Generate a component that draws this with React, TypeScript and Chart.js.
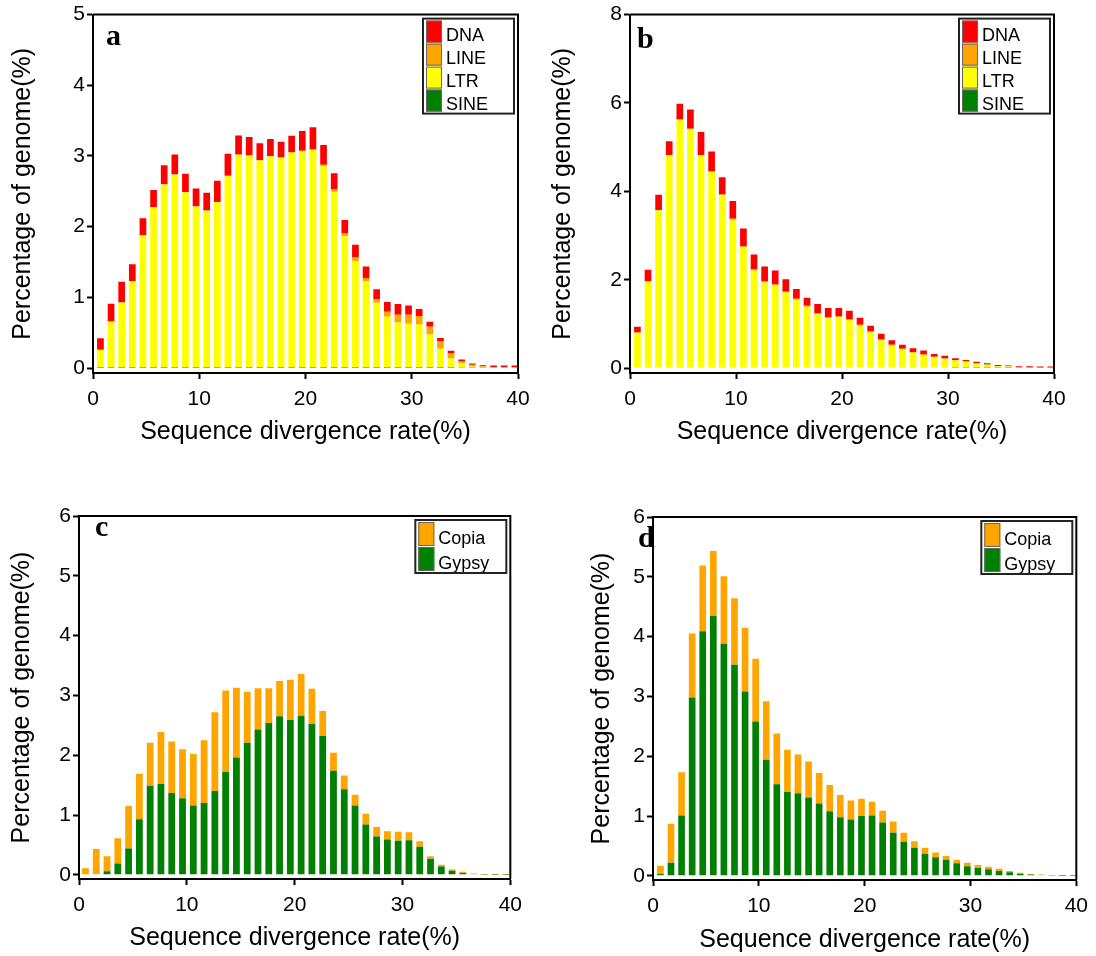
import { useEffect, useRef } from "react";
import { Chart, registerables } from "chart.js";

Chart.register(...registerables);

// Sequence divergence bins (%), one stacked bar per 1% bin
const DIVERGENCE_BINS = [
  1, 2, 3, 4, 5, 6, 7, 8, 9, 10, 11, 12, 13, 14, 15, 16, 17, 18, 19, 20,
  21, 22, 23, 24, 25, 26, 27, 28, 29, 30, 31, 32, 33, 34, 35, 36, 37, 38, 39, 40,
];
const X_TICKS = [0, 10, 20, 30, 40];

// Panel a: percentage of genome by repeat class
const A_SINE = [
  0.015, 0.015, 0.015, 0.015, 0.015, 0.015, 0.015, 0.015, 0.015, 0.015,
  0.015, 0.015, 0.015, 0.015, 0.015, 0.015, 0.015, 0.015, 0.015, 0.015,
  0.015, 0.015, 0.015, 0.015, 0.015, 0.015, 0.015, 0.015, 0.015, 0.015,
  0.015, 0.015, 0.015, 0.015, 0.01, 0.005, 0.005, 0.005, 0.005, 0.005,
];
const A_LTR = [
  0.24, 0.64, 0.91, 1.21, 1.86, 2.26, 2.58, 2.72, 2.47, 2.27,
  2.21, 2.33, 2.7, 3.0, 2.99, 2.92, 2.98, 2.96, 3.03, 3.05,
  3.07, 2.84, 2.48, 1.85, 1.5, 1.21, 0.91, 0.71, 0.63, 0.61,
  0.6, 0.46, 0.26, 0.12, 0.06, 0.02, 0.01, 0.005, 0.005, 0.005,
];
const A_LINE = [
  0.005, 0.005, 0.005, 0.005, 0.005, 0.005, 0.005, 0.005, 0.005, 0.005,
  0.005, 0.005, 0.005, 0.005, 0.005, 0.005, 0.005, 0.005, 0.01, 0.01,
  0.01, 0.02, 0.03, 0.04, 0.05, 0.05, 0.05, 0.07, 0.11, 0.13,
  0.12, 0.11, 0.1, 0.07, 0.03, 0.02, 0.01, 0.005, 0.005, 0.005,
];
const A_DNA = [
  0.16, 0.25, 0.29, 0.24, 0.24, 0.24, 0.27, 0.28, 0.26, 0.25,
  0.25, 0.3, 0.31, 0.27, 0.26, 0.24, 0.24, 0.22, 0.23, 0.28,
  0.31, 0.28, 0.23, 0.19, 0.18, 0.16, 0.14, 0.14, 0.15, 0.13,
  0.1, 0.07, 0.05, 0.04, 0.02, 0.02, 0.015, 0.02, 0.02, 0.02,
];
const A_Y_TICKS = [0, 1, 2, 3, 4, 5];

// Panel b: percentage of genome by repeat class
const B_SINE = [
  0.01, 0.01, 0.01, 0.01, 0.01, 0.01, 0.01, 0.01, 0.01, 0.01,
  0.01, 0.01, 0.01, 0.01, 0.01, 0.01, 0.01, 0.01, 0.01, 0.01,
  0.01, 0.01, 0.01, 0.01, 0.01, 0.01, 0.01, 0.01, 0.01, 0.01,
  0.005, 0.005, 0.005, 0.005, 0.005, 0.005, 0.005, 0.005, 0.005, 0.005,
];
const B_LTR = [
  0.79, 1.95, 3.56, 4.81, 5.61, 5.4, 4.81, 4.43, 3.9, 3.35,
  2.73, 2.2, 1.93, 1.86, 1.7, 1.54, 1.38, 1.21, 1.12, 1.14,
  1.08, 0.95, 0.8, 0.62, 0.5, 0.42, 0.34, 0.29, 0.24, 0.2,
  0.17, 0.14, 0.1, 0.07, 0.04, 0.03, 0.015, 0.01, 0.005, 0.005,
];
const B_LINE = [
  0.005, 0.005, 0.005, 0.005, 0.005, 0.005, 0.005, 0.02, 0.02, 0.02,
  0.02, 0.02, 0.02, 0.02, 0.02, 0.02, 0.02, 0.02, 0.02, 0.02,
  0.02, 0.02, 0.02, 0.02, 0.02, 0.01, 0.01, 0.01, 0.01, 0.01,
  0.01, 0.01, 0.005, 0.005, 0.005, 0.005, 0.005, 0.005, 0.005, 0.005,
];
const B_DNA = [
  0.13, 0.26, 0.35, 0.31, 0.36, 0.44, 0.52, 0.44, 0.39, 0.4,
  0.4, 0.34, 0.34, 0.32, 0.28, 0.22, 0.18, 0.21, 0.21, 0.19,
  0.19, 0.16, 0.13, 0.13, 0.1, 0.09, 0.09, 0.09, 0.06, 0.06,
  0.04, 0.03, 0.035, 0.03, 0.02, 0.02, 0.02, 0.02, 0.02, 0.02,
];
const B_Y_TICKS = [0, 2, 4, 6, 8];

// Panel c: LTR retrotransposon families
const C_GYPSY = [
  0.01, 0.01, 0.06, 0.19, 0.44, 0.93, 1.49, 1.52, 1.37, 1.28,
  1.16, 1.2, 1.4, 1.72, 1.96, 2.21, 2.43, 2.54, 2.65, 2.59,
  2.66, 2.52, 2.32, 1.74, 1.43, 1.16, 0.84, 0.64, 0.59, 0.57,
  0.58, 0.47, 0.27, 0.14, 0.07, 0.03, 0.01, 0.005, 0.003, 0.003,
];
const C_COPIA = [
  0.1, 0.42, 0.25, 0.42, 0.71, 0.76, 0.72, 0.87, 0.86, 0.82,
  0.86, 1.05, 1.32, 1.36, 1.17, 0.85, 0.69, 0.58, 0.59, 0.67,
  0.7, 0.59, 0.42, 0.3, 0.23, 0.18, 0.18, 0.16, 0.14, 0.15,
  0.13, 0.09, 0.04, 0.03, 0.02, 0.02, 0.01, 0.008, 0.008, 0.008,
];
const C_Y_TICKS = [0, 1, 2, 3, 4, 5, 6];

// Panel d: LTR retrotransposon families
const D_GYPSY = [
  0.03, 0.22, 1.01, 2.98, 4.09, 4.35, 3.88, 3.53, 3.08, 2.58,
  1.94, 1.53, 1.4, 1.38, 1.31, 1.21, 1.08, 0.98, 0.94, 1.0,
  1.01, 0.89, 0.72, 0.57, 0.47, 0.37, 0.31, 0.27, 0.21, 0.16,
  0.13, 0.11, 0.08, 0.06, 0.03, 0.02, 0.01, 0.005, 0.003, 0.003,
];
const D_COPIA = [
  0.14, 0.65, 0.72, 1.07, 1.1, 1.08, 1.13, 1.11, 1.07, 1.05,
  0.98, 0.85, 0.71, 0.65, 0.6, 0.51, 0.44, 0.37, 0.32, 0.29,
  0.23, 0.2, 0.19, 0.15, 0.11, 0.1, 0.08, 0.06, 0.06, 0.06,
  0.05, 0.04, 0.04, 0.02, 0.02, 0.01, 0.01, 0.005, 0.007, 0.007,
];
const D_Y_TICKS = [0, 1, 2, 3, 4, 5, 6];

const COLOR_DNA = "#ff0000";
const COLOR_LINE = "#ffa500";
const COLOR_LTR = "#ffff00";
const COLOR_SINE = "#008000";
const COLOR_COPIA = "#ffa500";
const COLOR_GYPSY = "#008000";

const SANS = '"Liberation Sans", Arial, Helvetica, sans-serif';
const SERIF = '"Liberation Serif", "Times New Roman", serif';

type Series = { label: string; color: string; values: number[] };
type PanelSpec = {
  letter: string;
  canvas: { x: number; y: number; w: number; h: number };
  area: { l: number; t: number; r: number; b: number };
  yMin: number;
  yMax: number;
  yTicks: number[];
  series: Series[]; // bottom of stack first
  binShift: number;
  letterDx: number;
  letterDy: number;
  legendItemH: number;
  yTitlePad: number;
  xTitlePad: number;
};

const PANELS: PanelSpec[] = [
  {
    letter: "a",
    canvas: { x: 0, y: 0, w: 540, h: 450 },
    area: { l: 93, t: 12, r: 518, b: 373 },
    yMin: -0.07,
    yMax: 5,
    yTicks: A_Y_TICKS,
    series: [
      { label: "SINE", color: COLOR_SINE, values: A_SINE },
      { label: "LTR", color: COLOR_LTR, values: A_LTR },
      { label: "LINE", color: COLOR_LINE, values: A_LINE },
      { label: "DNA", color: COLOR_DNA, values: A_DNA },
    ],
    binShift: -0.3,
    letterDx: 13,
    letterDy: 30,
    legendItemH: 23,
    yTitlePad: 8,
    xTitlePad: 3,
  },
  {
    letter: "b",
    canvas: { x: 539, y: 0, w: 540, h: 450 },
    area: { l: 630, t: 12, r: 1054, b: 373 },
    yMin: -0.11,
    yMax: 8,
    yTicks: B_Y_TICKS,
    series: [
      { label: "SINE", color: COLOR_SINE, values: B_SINE },
      { label: "LTR", color: COLOR_LTR, values: B_LTR },
      { label: "LINE", color: COLOR_LINE, values: B_LINE },
      { label: "DNA", color: COLOR_DNA, values: B_DNA },
    ],
    binShift: -0.3,
    letterDx: 7,
    letterDy: 33,
    legendItemH: 23,
    yTitlePad: 9,
    xTitlePad: 3,
  },
  {
    letter: "c",
    canvas: { x: 0, y: 470, w: 530, h: 486 },
    area: { l: 79, t: 516, r: 511, b: 879 },
    yMin: -0.07,
    yMax: 6,
    yTicks: C_Y_TICKS,
    series: [
      { label: "Gypsy", color: COLOR_GYPSY, values: C_GYPSY },
      { label: "Copia", color: COLOR_COPIA, values: C_COPIA },
    ],
    binShift: -0.4,
    letterDx: 16,
    letterDy: 20,
    legendItemH: 25,
    yTitlePad: 7,
    xTitlePad: 3,
  },
  {
    letter: "d",
    canvas: { x: 577, y: 470, w: 519, h: 486 },
    area: { l: 653, t: 517, r: 1083, b: 880 },
    yMin: -0.07,
    yMax: 6,
    yTicks: D_Y_TICKS,
    series: [
      { label: "Gypsy", color: COLOR_GYPSY, values: D_GYPSY },
      { label: "Copia", color: COLOR_COPIA, values: D_COPIA },
    ],
    binShift: -0.3,
    letterDx: -15,
    letterDy: 30,
    legendItemH: 25,
    yTitlePad: 10,
    xTitlePad: 1,
  },
];

function Panel({ spec }: { spec: PanelSpec }) {
  const ref = useRef<HTMLCanvasElement>(null);

  useEffect(() => {
    const canvas = ref.current;
    if (!canvas) return;
    const s = spec;
    const yAxisWidth = s.area.l - s.canvas.x;
    const xAxisHeight = s.canvas.y + s.canvas.h - s.area.b;

    // Frame, panel letter and legend box drawn over the plot
    const overlay = {
      id: "panelOverlay",
      afterDraw(chart: any) {
        const { ctx, chartArea } = chart;
        const { left, top, right, bottom } = chartArea;
        ctx.save();
        ctx.strokeStyle = "#000";
        ctx.lineWidth = 2;
        ctx.beginPath();
        ctx.moveTo(left, top);
        ctx.lineTo(right, top);
        ctx.lineTo(right, bottom);
        ctx.stroke();

        ctx.fillStyle = "#000";
        ctx.font = `bold 30px ${SERIF}`;
        ctx.textBaseline = "alphabetic";
        ctx.textAlign = "left";
        ctx.fillText(s.letter, left + s.letterDx, top + s.letterDy);

        const items = [...s.series].reverse();
        const boxW = 91;
        const itemH = s.legendItemH;
        const boxH = items.length * itemH + 3;
        const bx = right - 4 - boxW;
        const by = top + 4;
        ctx.fillStyle = "#fff";
        ctx.fillRect(bx, by, boxW, boxH);
        items.forEach((it, k) => {
          const sy = by + 2 + k * itemH;
          ctx.fillStyle = it.color;
          ctx.fillRect(bx + 3, sy, 16, itemH - 1);
          ctx.strokeStyle = "#666";
          ctx.lineWidth = 1;
          ctx.strokeRect(bx + 3.5, sy + 0.5, 15, itemH - 2);
          ctx.fillStyle = "#000";
          ctx.font = `18px ${SANS}`;
          ctx.fillText(it.label, bx + 23, sy + itemH - 3);
        });
        ctx.strokeStyle = "#222";
        ctx.lineWidth = 2;
        ctx.strokeRect(bx, by, boxW, boxH);
        ctx.restore();
      },
    };

    const chart = new Chart(canvas, {
      type: "bar",
      data: {
        datasets: s.series.map((ser) => ({
          label: ser.label,
          data: ser.values.map((v, i) => ({ x: DIVERGENCE_BINS[i] + s.binShift, y: v })),
          backgroundColor: ser.color,
          borderWidth: 0,
          barPercentage: 0.63,
          categoryPercentage: 1,
        })),
      },
      options: {
        animation: false,
        responsive: false,
        devicePixelRatio: 1,
        layout: {
          autoPadding: false,
          padding: {
            top: s.area.t - s.canvas.y,
            right: s.canvas.x + s.canvas.w - s.area.r,
            left: 0,
            bottom: 0,
          },
        },
        plugins: { legend: { display: false }, tooltip: { enabled: false } },
        scales: {
          x: {
            type: "linear",
            stacked: true,
            min: 0,
            max: 40,
            offset: false,
            afterBuildTicks: (sc: any) => {
              sc.ticks = X_TICKS.map((v) => ({ value: v }));
            },
            afterFit: (sc: any) => {
              sc.height = xAxisHeight;
            },
            grid: {
              display: true,
              drawOnChartArea: false,
              drawTicks: true,
              tickLength: 6,
              tickWidth: 2,
              color: "#000",
              offset: false,
            },
            border: { display: true, color: "#000", width: 2 },
            ticks: {
              color: "#000",
              font: { family: SANS, size: 21 },
              padding: 8,
              maxRotation: 0,
              autoSkip: false,
            },
            title: {
              display: true,
              text: "Sequence divergence rate(%)",
              color: "#000",
              font: { family: SANS, size: 25 },
              padding: { top: 0, bottom: s.xTitlePad },
            },
          },
          y: {
            type: "linear",
            stacked: true,
            min: s.yMin,
            max: s.yMax,
            afterBuildTicks: (sc: any) => {
              sc.ticks = s.yTicks.map((v) => ({ value: v }));
            },
            afterFit: (sc: any) => {
              sc.width = yAxisWidth;
            },
            grid: {
              display: true,
              drawOnChartArea: false,
              drawTicks: true,
              tickLength: 6,
              tickWidth: 2,
              color: "#000",
            },
            border: { display: true, color: "#000", width: 2 },
            ticks: {
              color: "#000",
              font: { family: SANS, size: 21 },
              padding: 2,
            },
            title: {
              display: true,
              text: "Percentage of genome(%)",
              color: "#000",
              font: { family: SANS, size: 25 },
              padding: { top: s.yTitlePad, bottom: 0 },
            },
          },
        },
      },
      plugins: [overlay],
    } as any);

    return () => chart.destroy();
  }, [spec]);

  return (
    <canvas
      ref={ref}
      width={spec.canvas.w}
      height={spec.canvas.h}
      style={{
        position: "absolute",
        left: spec.canvas.x,
        top: spec.canvas.y,
        width: spec.canvas.w,
        height: spec.canvas.h,
      }}
    />
  );
}

export default function App() {
  return (
    <div
      style={{
        position: "absolute",
        left: 0,
        top: 0,
        width: 1096,
        height: 956,
        background: "#fff",
        overflow: "hidden",
      }}
    >
      {PANELS.map((p) => (
        <Panel key={p.letter} spec={p} />
      ))}
    </div>
  );
}
